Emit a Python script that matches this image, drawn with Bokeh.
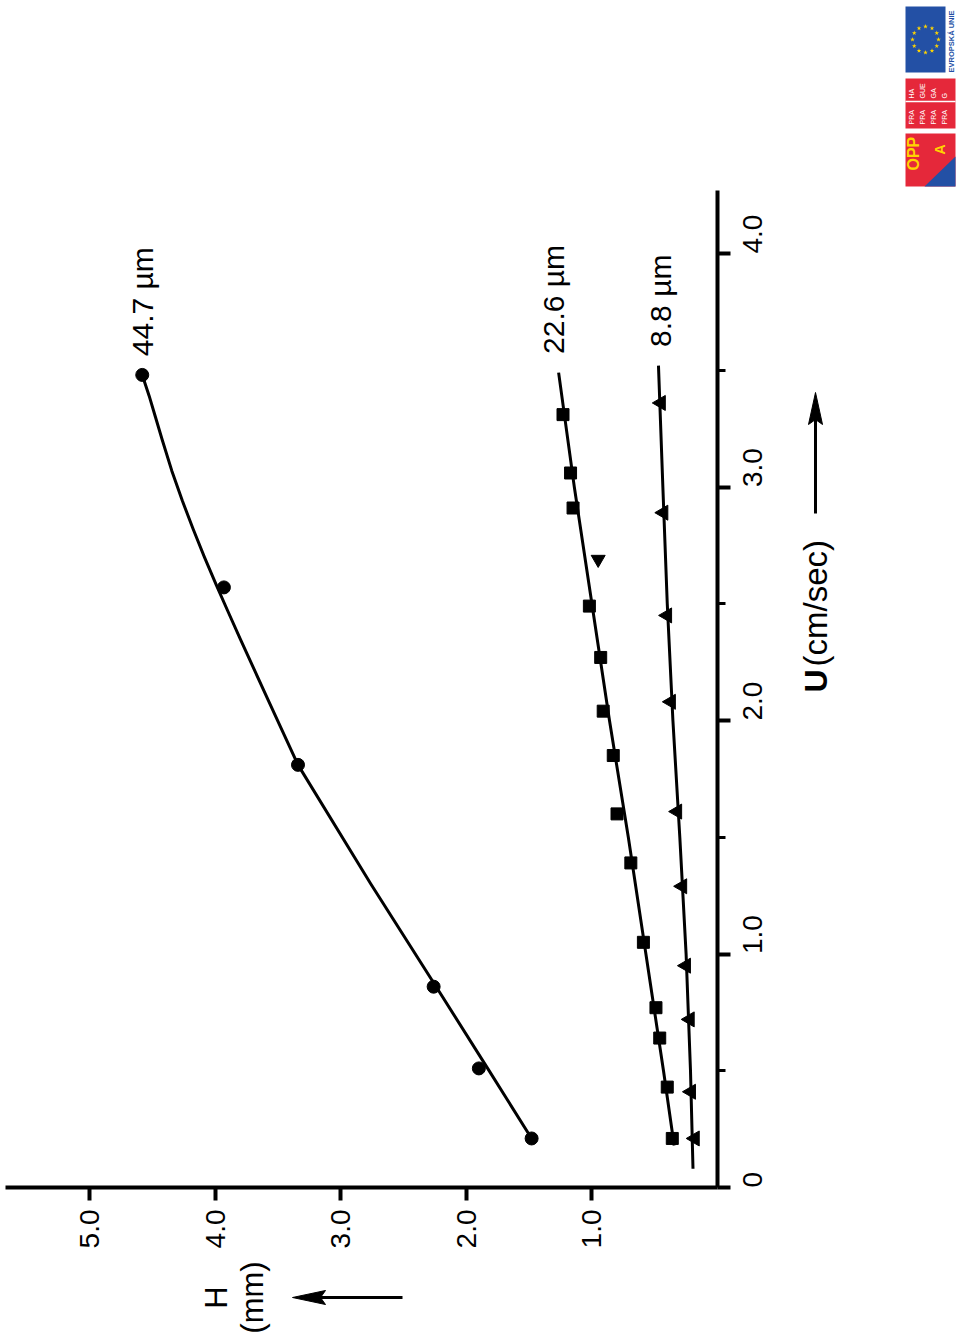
import math
from bokeh.plotting import figure
from bokeh.models import Range1d, LinearAxis, FixedTicker, Grid
from bokeh.core.properties import value
from bokeh.embed import file_html
from bokeh.resources import INLINE

# ---------------- data ----------------
# x: H (mm), y: U (cm/sec)
U_447 = [0.21, 0.51, 0.86, 1.81, 2.57, 3.48]
H_447 = [1.48, 1.90, 2.26, 3.34, 3.93, 4.58]
CURVE_U_447 = [0.21, 0.51, 0.86, 1.30, 1.81, 1.95, 2.09, 2.22, 2.35, 2.47, 2.58, 2.70,
               2.82, 2.94, 3.07, 3.20, 3.30, 3.39, 3.48]
CURVE_H_447 = [1.48, 1.83, 2.24, 2.76, 3.34, 3.46, 3.58, 3.69, 3.80, 3.90, 3.99, 4.085,
               4.175, 4.26, 4.345, 4.42, 4.475, 4.525, 4.58]

U_226 = [0.21, 0.43, 0.64, 0.77, 1.05, 1.39, 1.60, 1.85, 2.04, 2.27, 2.49, 2.91, 3.06, 3.31]
H_226 = [0.36, 0.40, 0.46, 0.49, 0.59, 0.69, 0.80, 0.83, 0.91, 0.93, 1.02, 1.15, 1.17, 1.23]
U_226_OUT = [2.69]
H_226_OUT = [0.95]
CURVE_U_226 = [0.18, 0.50, 1.00, 1.50, 2.00, 2.50, 3.00, 3.49]
CURVE_H_226 = [0.345, 0.43, 0.57, 0.71, 0.86, 1.00, 1.14, 1.265]

U_88 = [0.21, 0.41, 0.72, 0.95, 1.29, 1.61, 2.08, 2.45, 2.89, 3.36]
H_88 = [0.18, 0.21, 0.22, 0.25, 0.28, 0.32, 0.37, 0.40, 0.43, 0.45]
CURVE_U_88 = [0.08, 0.50, 1.00, 1.50, 2.00, 2.50, 3.00, 3.52]
CURVE_H_88 = [0.195, 0.215, 0.25, 0.30, 0.355, 0.40, 0.435, 0.47]

SERIES_LABELS = ["44.7 µm", "22.6 µm", "8.8 µm"]

H_TICKS = [1, 2, 3, 4, 5]
H_TICK_LABELS = ["1.0", "2.0", "3.0", "4.0", "5.0"]
U_TICKS = [0, 1, 2, 3, 4]
U_TICK_LABELS = ["0", "1.0", "2.0", "3.0", "4.0"]
U_MINOR = [0.5, 1.5, 2.5, 3.5]

# ---------------- layout helpers (page pixel -> data) ----------------
W, HGT = 960, 1340
X0, XS = 717.0, 125.6   # page x of H=0 and px per mm
Y0, YS = 1187.0, 233.5  # page y of U=0 and px per cm/s


def hx(px):
    return (X0 - px) / XS


def uy(py):
    return (Y0 - py) / YS


FONT = value("Liberation Sans")

p = figure(width=W, height=HGT,
           x_range=Range1d(hx(0), hx(W)),
           y_range=Range1d(uy(HGT), uy(0)),
           output_backend="svg", toolbar_location=None,
           x_axis_location=None, y_axis_location=None,
           min_border=0, min_border_left=0, min_border_right=0,
           min_border_top=0, min_border_bottom=0)
p.outline_line_color = None
p.background_fill_color = "white"
p.border_fill_color = "white"
for g in p.select(type=Grid):
    g.visible = False

# ---------------- axes ----------------
xax = LinearAxis(fixed_location=0, bounds=(0, hx(5)),
                 ticker=FixedTicker(ticks=H_TICKS, minor_ticks=[]),
                 major_label_overrides={t: l for t, l in zip(H_TICKS, H_TICK_LABELS)})
yax = LinearAxis(fixed_location=0, bounds=(0, uy(190)),
                 ticker=FixedTicker(ticks=U_TICKS, minor_ticks=U_MINOR),
                 major_label_overrides={t: l for t, l in zip(U_TICKS, U_TICK_LABELS)})
for ax in (xax, yax):
    ax.axis_line_width = 4
    ax.axis_line_color = "black"
    ax.major_tick_line_width = 4
    ax.major_tick_line_color = "black"
    ax.major_tick_out = 13
    ax.major_tick_in = 0
    ax.minor_tick_line_width = 3
    ax.minor_tick_line_color = "black"
    ax.minor_tick_out = 8
    ax.minor_tick_in = 0
    ax.major_label_text_font = "Liberation Sans"
    ax.major_label_text_font_size = "28px"
    ax.major_label_text_color = "black"
    ax.major_label_orientation = math.pi / 2
xax.major_label_standoff = 9
yax.major_label_standoff = 22
p.add_layout(xax, "below")
p.add_layout(yax, "right")

# ---------------- curves & points ----------------
p.line(CURVE_H_447, CURVE_U_447, line_width=3, line_color="black", line_join="round")
p.line(CURVE_H_226, CURVE_U_226, line_width=3, line_color="black", line_join="round")
p.line(CURVE_H_88, CURVE_U_88, line_width=3, line_color="black", line_join="round")

p.scatter(H_447, U_447, marker="circle", size=13, color="black")
p.scatter(H_226, U_226, marker="square", size=12, color="black")
p.scatter(H_226_OUT, U_226_OUT, marker="inverted_triangle", size=14, color="black")
p.scatter(H_88, U_88, marker="triangle", angle=math.pi / 2, size=15, color="black")

# series labels, placed just beyond each curve's end
ends = [(CURVE_H_447[-1], CURVE_U_447[-1]), (CURVE_H_226[-1] + 0.04, CURVE_U_226[-1]),
        (CURVE_H_88[-1] - 0.015, CURVE_U_88[-1])]
p.text(x=[e[0] for e in ends], y=[e[1] + 0.08 for e in ends], text=SERIES_LABELS,
       angle=math.pi / 2, text_align="left", text_baseline="middle",
       text_font=FONT, text_font_size="30px", text_color="black")

# ---------------- axis titles ----------------
p.text(x=[hx(216)], y=[uy(1297)], text=["H"], angle=math.pi / 2,
       text_align="center", text_baseline="middle", text_font=FONT,
       text_font_size="31px", text_color="black")
p.text(x=[hx(252)], y=[uy(1297)], text=["(mm)"], angle=math.pi / 2,
       text_align="center", text_baseline="middle", text_font=FONT,
       text_font_size="31px", text_color="black")
# arrow H: shaft + narrow filled head pointing left
p.segment(x0=[hx(402)], y0=[uy(1297)], x1=[hx(315)], y1=[uy(1297)],
          line_width=3, line_color="black")
p.patch(x=[hx(292), hx(325), hx(320), hx(325)],
        y=[uy(1297), uy(1290), uy(1297), uy(1304)],
        color="black", line_color="black", line_width=1)

p.text(x=[hx(815)], y=[uy(692)], text=["U"], angle=math.pi / 2,
       text_align="left", text_baseline="middle", text_font=FONT,
       text_font_size="32px", text_font_style="bold", text_color="black")
p.text(x=[hx(815)], y=[uy(666)], text=["(cm/sec)"], angle=math.pi / 2,
       text_align="left", text_baseline="middle", text_font=FONT,
       text_font_size="33px", text_color="black")
# arrow U: shaft + narrow filled head pointing up
p.segment(x0=[hx(815)], y0=[uy(513)], x1=[hx(815)], y1=[uy(415)],
          line_width=3, line_color="black")
p.patch(x=[hx(815), hx(808), hx(815), hx(822)],
        y=[uy(392), uy(424), uy(419), uy(424)],
        color="black", line_color="black", line_width=1)

# ---------------- logo block (top right) ----------------
BLUE = "#2350a5"
RED = "#e5283a"
YEL = "#ffd400"
p.quad(left=[hx(905)], right=[hx(945)], top=[uy(6)], bottom=[uy(72)],
       color=BLUE, line_color=None)
cx, cy, r = 925, 39, 13
sx = [hx(cx + r * math.cos(2 * math.pi * k / 12)) for k in range(12)]
sy = [uy(cy + r * math.sin(2 * math.pi * k / 12)) for k in range(12)]
p.scatter(sx, sy, marker="star", size=5, color=YEL, line_color=None)
p.text(x=[hx(951)], y=[uy(72)], text=["EVROPSKÁ UNIE"], angle=math.pi / 2,
       text_align="left", text_baseline="middle", text_font=FONT,
       text_font_size="7.5px", text_font_style="bold", text_color=BLUE)

p.quad(left=[hx(905)], right=[hx(955)], top=[uy(78)], bottom=[uy(128)],
       color=RED, line_color=None)
p.segment(x0=[hx(905)], x1=[hx(955)], y0=[uy(101)], y1=[uy(101)],
          line_color="white", line_width=1.5)
cols = [911, 922, 933, 944]
p.text(x=[hx(c) for c in cols], y=[uy(124)] * 4, text=["PRA"] * 4, angle=math.pi / 2,
       text_align="left", text_baseline="middle", text_font=FONT,
       text_font_size="7px", text_color="white")
p.text(x=[hx(c) for c in cols], y=[uy(98)] * 4, text=["HA", "GUE", "GA", "G"],
       angle=math.pi / 2, text_align="left", text_baseline="middle", text_font=FONT,
       text_font_size="7px", text_color="white")

p.quad(left=[hx(905)], right=[hx(955)], top=[uy(133)], bottom=[uy(186)],
       color=RED, line_color=None)
p.patch(x=[hx(924), hx(955), hx(955)], y=[uy(186), uy(186), uy(156)],
        color=BLUE, line_color=None)
p.text(x=[hx(913)], y=[uy(170)], text=["OPP"], angle=math.pi / 2,
       text_align="left", text_baseline="middle", text_font=FONT,
       text_font_size="16px", text_font_style="bold", text_color=YEL)
p.text(x=[hx(939)], y=[uy(154)], text=["A"], angle=math.pi / 2,
       text_align="left", text_baseline="middle", text_font=FONT,
       text_font_size="14px", text_font_style="bold", text_color=YEL)

open("out.html", "w").write(file_html(p, INLINE))
